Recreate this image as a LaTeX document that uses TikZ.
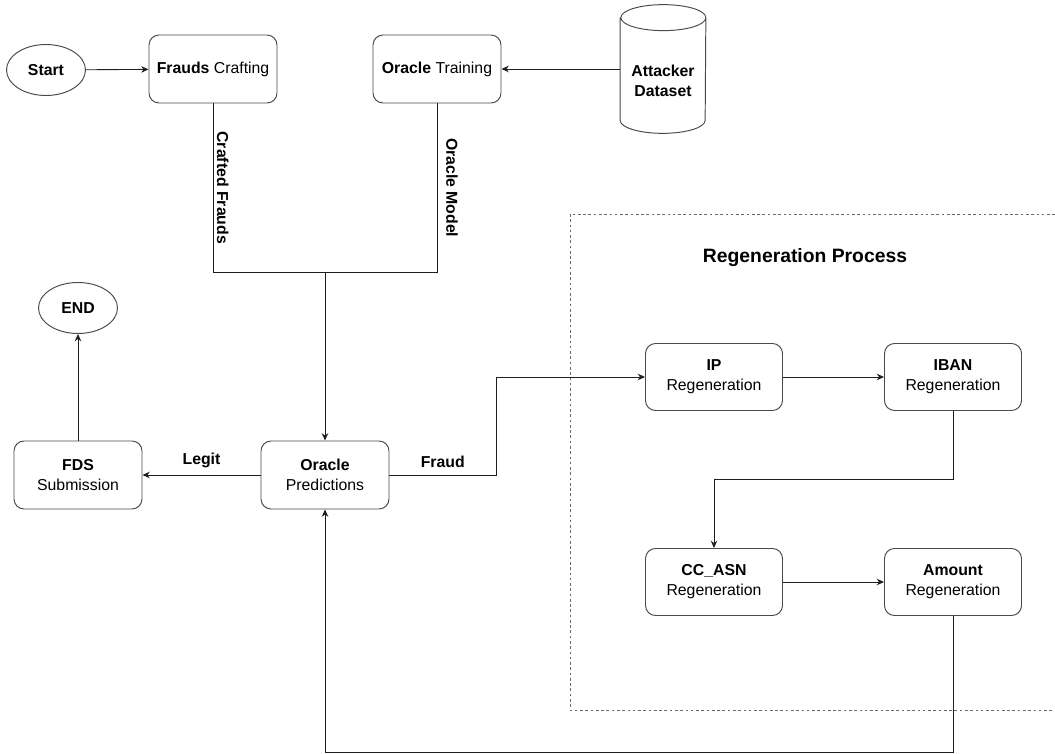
\documentclass[tikz,border=0pt]{standalone}
\usepackage{fontspec}
\setmainfont{Liberation Sans}
\usetikzlibrary{arrows.meta,positioning,calc,shapes.geometric}
\definecolor{flowink}{HTML}{1E1E1E}
\definecolor{flowedge}{HTML}{4A4A4A}
\definecolor{flowmute}{HTML}{6A6A6A}
\tikzset{
  bx/.style={rounded corners=0.2cm, align=center, draw=flowedge, line width=0.55pt, font=\fontsize{9}{11.3}\selectfont, minimum width=2.56cm, minimum height=1.36cm, inner sep=2pt},
  rg/.style={bx, minimum width=2.74cm, minimum height=1.34cm},
  term/.style={ellipse, draw=flowedge, line width=0.55pt, font=\fontsize{9}{11}\selectfont\bfseries, minimum width=1.58cm, minimum height=1.02cm, inner sep=0pt},
  arr/.style={-{Stealth[length=1.45mm, width=1.3mm, inset=0.45mm]}, line width=0.5pt, color=flowink},
  ln/.style={line width=0.5pt, color=flowink},
  lbl/.style={font=\fontsize{9}{11}\selectfont\bfseries, text=black},
  grp/.style={draw=flowmute, line width=0.5pt, dash pattern=on 1.5pt off 1.5pt},
}

\begin{document}
\begin{tikzpicture}
  \useasboundingbox (0,0) rectangle (21.1,-15.08);
  % top row
  \node[term] (start) at (0.92,-1.4) {Start};
  \node[bx] (craft) at (4.26,-1.38) {\textbf{Frauds} Crafting};
  \node[bx] (train) at (8.74,-1.38) {\textbf{Oracle} Training};
  \node[minimum width=1.7cm, minimum height=2.56cm, inner sep=0pt,
    label={[lbl, align=center, yshift=-0.24cm]center:{Attacker\\Dataset}}] (data) at (13.26,-1.38) {};
  \draw[ln, draw=flowedge, line width=0.55pt] ([yshift=-0.26cm]data.north west) -- ([yshift=0.26cm]data.south west)
    arc[start angle=180, end angle=360, x radius=0.85cm, y radius=0.26cm]
    -- ([yshift=-0.26cm]data.north east)
    arc[start angle=0, end angle=180, x radius=0.85cm, y radius=0.26cm]
    arc[start angle=180, end angle=360, x radius=0.85cm, y radius=0.26cm];

  % middle row
  \node[term] (endn) at (1.56,-6.16) {END};
  \node[bx] (fds) at (1.56,-9.5) {\textbf{FDS}\\Submission};
  \node[bx] (pred) at (6.5,-9.5) {\textbf{Oracle}\\Predictions};

  % regeneration group
  \draw[grp] (21.1,-4.28) -- (11.4,-4.28) -- (11.4,-14.2) -- (21.1,-14.2);
  \node[font=\fontsize{11}{13}\selectfont\bfseries] (regtitle) at (16.1,-5.16) {Regeneration Process};
  \node[rg] (ip) at (14.28,-7.54) {\textbf{IP}\\Regeneration};
  \node[rg] (iban) at (19.06,-7.54) {\textbf{IBAN}\\Regeneration};
  \node[rg] (ccasn) at (14.28,-11.64) {\textbf{CC\_ASN}\\Regeneration};
  \node[rg] (amount) at (19.06,-11.64) {\textbf{Amount}\\Regeneration};

  \coordinate (join) at (6.5,-5.44);
  \coordinate (bend) at (9.92,-9.5);
  \coordinate (split) at (0,-9.58);
  \coordinate (loop) at (0,-15.04);

  % connectors
  \draw[arr] (start) -- (craft);
  \draw[arr] (data.west) -- (train.east);
  \draw[ln] (craft.south) -- node[lbl, midway, rotate=-90, anchor=south, inner sep=2pt] {Crafted Frauds} (craft.south |- join)
    -- (train.south |- join) -- node[lbl, midway, rotate=-90, anchor=south, inner sep=5pt] {Oracle Model} (train.south);
  \draw[arr] (join) -- (pred);
  \draw[arr] (pred) -- node[lbl, above, inner sep=4pt] {Legit} (fds);
  \draw[arr] (fds) -- (endn);
  \draw[arr] (pred.east) -- node[lbl, above, inner sep=4pt] {Fraud} (bend) |- (ip.west);
  \draw[arr] (ip) -- (iban);
  \draw[arr] (iban.south) -- (iban.south |- split) -| (ccasn.north);
  \draw[arr] (ccasn) -- (amount);
  \draw[arr] (amount.south) -- (amount.south |- loop) -| (pred.south);
\end{tikzpicture}
\end{document}
